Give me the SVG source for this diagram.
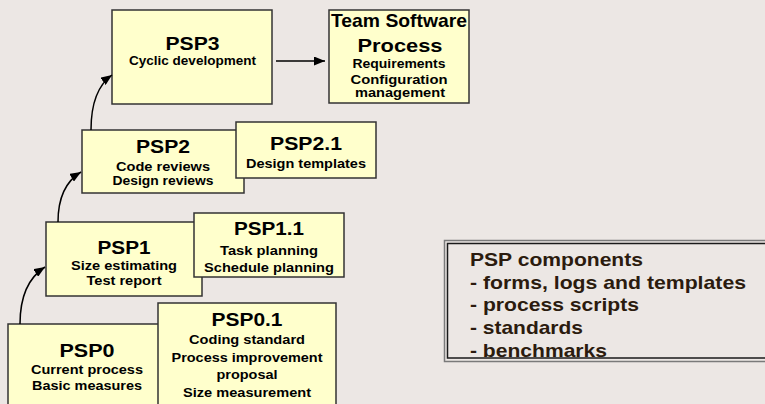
<svg xmlns="http://www.w3.org/2000/svg" width="765" height="404" viewBox="0 0 765 404">
  <style>
    .box { fill: #FFFFCC; stroke: #333333; stroke-width: 1.5; }
    text { font-family: "Liberation Sans", Arial, sans-serif; font-weight: bold; fill: #000000; text-anchor: middle; }
    .title { font-size: 19px; }
    .body { font-size: 13px; }
    .conn { fill: none; stroke: #000000; stroke-width: 1.5; }
    .panel-text { font-size: 19px; fill: #2B1B0E; text-anchor: start; }
  </style>
  <defs>
    <marker id="arrow" viewBox="0 0 11 9" refX="11" refY="4.5" markerWidth="11" markerHeight="9" markerUnits="userSpaceOnUse" orient="auto">
      <path d="M0,0 L11,4.5 L0,9 z" fill="#000000"/>
    </marker>
  </defs>

  <rect width="765" height="404" fill="#ECE7E4"/>

  <!-- level 0 -->
  <g id="psp0">
    <rect class="box" x="8" y="324" width="158" height="92"/>
    <text class="title" x="87" y="357" textLength="55" lengthAdjust="spacingAndGlyphs">PSP0</text>
    <text class="body" x="87" y="374" textLength="112" lengthAdjust="spacingAndGlyphs">Current process</text>
    <text class="body" x="87" y="390" textLength="110" lengthAdjust="spacingAndGlyphs">Basic measures</text>
  </g>
  <g id="psp0_1">
    <rect class="box" x="158" y="303" width="178" height="112"/>
    <text class="title" x="247" y="326" textLength="71" lengthAdjust="spacingAndGlyphs">PSP0.1</text>
    <text class="body" x="247" y="344" textLength="116" lengthAdjust="spacingAndGlyphs">Coding standard</text>
    <text class="body" x="247" y="362" textLength="151" lengthAdjust="spacingAndGlyphs">Process improvement</text>
    <text class="body" x="247" y="379" textLength="61" lengthAdjust="spacingAndGlyphs">proposal</text>
    <text class="body" x="247" y="396.5" textLength="128" lengthAdjust="spacingAndGlyphs">Size measurement</text>
  </g>

  <!-- level 1 -->
  <g id="psp1">
    <rect class="box" x="46" y="222" width="156" height="74"/>
    <text class="title" x="124" y="254" textLength="53" lengthAdjust="spacingAndGlyphs">PSP1</text>
    <text class="body" x="124" y="270" textLength="106" lengthAdjust="spacingAndGlyphs">Size estimating</text>
    <text class="body" x="124" y="285" textLength="75" lengthAdjust="spacingAndGlyphs">Test report</text>
  </g>
  <g id="psp1_1">
    <rect class="box" x="194" y="213" width="150" height="64"/>
    <text class="title" x="269" y="235" textLength="70" lengthAdjust="spacingAndGlyphs">PSP1.1</text>
    <text class="body" x="269" y="255" textLength="98" lengthAdjust="spacingAndGlyphs">Task planning</text>
    <text class="body" x="269" y="271.5" textLength="130" lengthAdjust="spacingAndGlyphs">Schedule planning</text>
  </g>

  <!-- level 2 -->
  <g id="psp2">
    <rect class="box" x="82" y="130" width="162" height="63"/>
    <text class="title" x="163" y="152.5" textLength="54" lengthAdjust="spacingAndGlyphs">PSP2</text>
    <text class="body" x="163" y="171" textLength="94" lengthAdjust="spacingAndGlyphs">Code reviews</text>
    <text class="body" x="163" y="185" textLength="101" lengthAdjust="spacingAndGlyphs">Design reviews</text>
  </g>
  <g id="psp2_1">
    <rect class="box" x="236" y="122" width="140" height="56"/>
    <text class="title" x="306" y="150" textLength="72" lengthAdjust="spacingAndGlyphs">PSP2.1</text>
    <text class="body" x="306" y="168" textLength="120" lengthAdjust="spacingAndGlyphs">Design templates</text>
  </g>

  <!-- level 3 -->
  <g id="psp3">
    <rect class="box" x="112" y="10" width="160" height="94"/>
    <text class="title" x="192.5" y="50" textLength="54" lengthAdjust="spacingAndGlyphs">PSP3</text>
    <text class="body" x="192.5" y="65" textLength="127" lengthAdjust="spacingAndGlyphs">Cyclic development</text>
  </g>
  <g id="tsp">
    <rect class="box" x="329" y="10" width="140" height="93"/>
    <text class="title" x="399" y="26.5" textLength="136" lengthAdjust="spacingAndGlyphs">Team Software</text>
    <text class="title" x="400" y="51.5" textLength="85" lengthAdjust="spacingAndGlyphs">Process</text>
    <text class="body" x="399" y="68" textLength="93" lengthAdjust="spacingAndGlyphs">Requirements</text>
    <text class="body" x="399" y="83.5" textLength="97" lengthAdjust="spacingAndGlyphs">Configuration</text>
    <text class="body" x="400" y="97" textLength="90" lengthAdjust="spacingAndGlyphs">management</text>
  </g>

  <!-- connectors -->
  <g id="connectors">
    <path class="conn" d="M20,324 Q20,283 45,267" marker-end="url(#arrow)"/>
    <path class="conn" d="M58,222 Q58,186 81,172" marker-end="url(#arrow)"/>
    <path class="conn" d="M91,130 Q91,90 112,75" marker-end="url(#arrow)"/>
    <path class="conn" d="M276,61 L325,61" marker-end="url(#arrow)"/>
  </g>

  <!-- components panel -->
  <g id="components">
    <rect x="444.5" y="240.5" width="330" height="121" fill="#ECE7E4" stroke="#7A7A7A" stroke-width="1.5"/>
    <rect x="447.5" y="243.5" width="330" height="114.5" fill="none" stroke="#1A1A1A" stroke-width="1.5"/>
    <text class="panel-text" x="470" y="266" textLength="173" lengthAdjust="spacingAndGlyphs">PSP components</text>
    <text class="panel-text" x="470" y="288.5" textLength="276" lengthAdjust="spacingAndGlyphs">- forms, logs and templates</text>
    <text class="panel-text" x="470" y="311" textLength="169" lengthAdjust="spacingAndGlyphs">- process scripts</text>
    <text class="panel-text" x="470" y="334" textLength="113" lengthAdjust="spacingAndGlyphs">- standards</text>
    <text class="panel-text" x="470" y="357" textLength="137" lengthAdjust="spacingAndGlyphs">- benchmarks</text>
  </g>
</svg>
